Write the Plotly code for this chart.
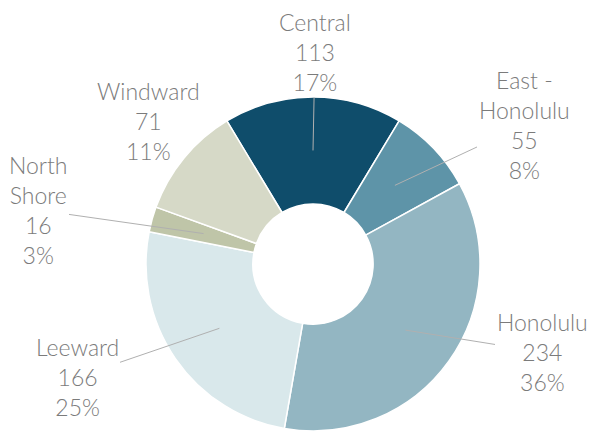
import math
import plotly.graph_objects as go

# ---- data ----
regions = ["Central", "East -<br>Honolulu", "Honolulu", "Leeward", "North<br>Shore", "Windward"]
counts = [113, 55, 234, 166, 16, 71]
colors = ["#0f4d6b", "#5e94a8", "#93b6c2", "#d9e8eb", "#bfc5a8", "#d6d9c7"]

# ---- layout / style ----
W, H = 592, 431
R = 167                      # pie radius in px
CX, CY = 313, 264            # pie centre in px (from top-left)
HOLE = 0.36
TIP_FRAC = 0.68              # where leader lines start (fraction of radius)
# label block centres, as pixel offsets from the pie centre
LABEL_OFFSET_PX = [(2, -212), (211, -139), (229, 88), (-236, 113), (-275, -54), (-165, -143)]
SHOW_LINE = [True, True, True, True, True, False]
TEXT_COLOR = "#7b7b7b"
LINE_COLOR = "#b0b0b0"
FONT = "Lato"

total = sum(counts)
rotation = -counts[0] / total * 180.0

# percentages rounded so they sum to 100 (largest remainder)
raw = [v / total * 100 for v in counts]
pcts = [math.floor(p) for p in raw]
order = sorted(range(len(raw)), key=lambda i: raw[i] - pcts[i], reverse=True)
for i in order[:100 - sum(pcts)]:
    pcts[i] += 1

y0 = max(0.0, (H - CY - R) / H)
y1 = min(1.0, (H - CY + R) / H)
fig = go.Figure(go.Pie(
    labels=[r.replace("<br>", " ") for r in regions],
    values=counts,
    sort=False,
    direction="clockwise",
    rotation=rotation,
    hole=HOLE,
    textinfo="none",
    marker=dict(colors=colors, line=dict(color="white", width=1.5)),
    domain=dict(x=[(CX - R) / W, (CX + R) / W], y=[y0, y1]),
    hoverinfo="label+value+percent",
))

annotations = []
start = rotation
for i, (name, v) in enumerate(zip(regions, counts)):
    span = v / total * 360.0
    mid = math.radians(start + span / 2)
    start += span
    tx = CX + TIP_FRAC * R * math.sin(mid)
    ty = CY - TIP_FRAC * R * math.cos(mid)
    lx = CX + LABEL_OFFSET_PX[i][0]
    ly = CY + LABEL_OFFSET_PX[i][1]
    text = f"{name}<br>{v}<br>{pcts[i]}%"
    font = dict(family=FONT, size=23, color=TEXT_COLOR, weight=300)
    if SHOW_LINE[i]:
        annotations.append(dict(
            x=tx / W, y=1 - ty / H, xref="paper", yref="paper",
            ax=lx - tx, ay=ly - ty, showarrow=True, arrowhead=0,
            arrowwidth=1, arrowcolor=LINE_COLOR, standoff=0,
            text=text, font=font, align="center",
        ))
    else:
        annotations.append(dict(
            x=lx / W, y=1 - ly / H, xref="paper", yref="paper",
            showarrow=False, text=text, xanchor="center", yanchor="middle",
            font=font, align="center",
        ))

fig.update_layout(
    width=W, height=H,
    margin=dict(l=0, r=0, t=0, b=0),
    showlegend=False,
    paper_bgcolor="white",
    plot_bgcolor="white",
    annotations=annotations,
)

fig.write_html("out.html")
